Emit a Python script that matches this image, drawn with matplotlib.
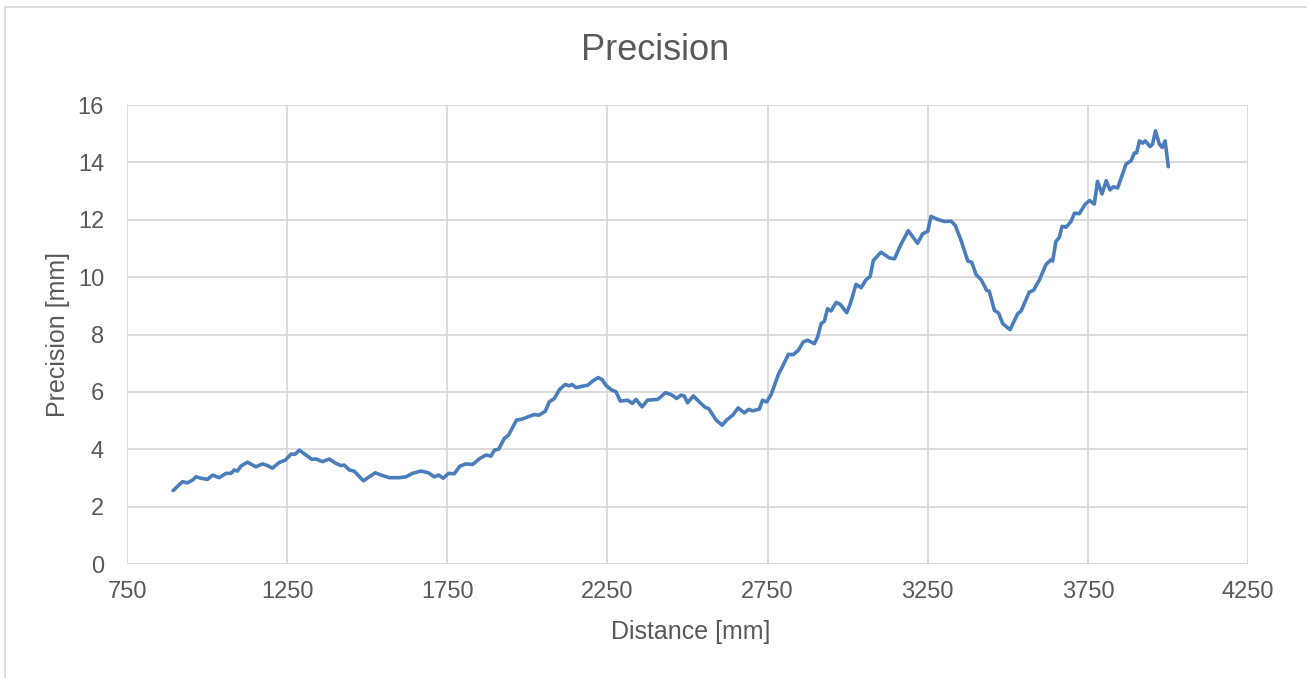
import matplotlib.pyplot as plt
from matplotlib.patches import Rectangle

# Distance [mm] and precision [mm]
distance = [894, 923, 939, 955, 965, 981, 1001, 1017, 1038, 1059, 1074, 1085, 1095,
            1106, 1126, 1152, 1173, 1189, 1204, 1225, 1244, 1262, 1275, 1288, 1309,
            1327, 1340, 1360, 1381, 1402, 1418, 1428, 1444, 1459, 1488, 1506, 1525,
            1543, 1569, 1600, 1621, 1641, 1668, 1691, 1709, 1723, 1737, 1754, 1772,
            1789, 1808, 1829, 1850, 1871, 1886, 1897, 1910, 1928, 1941, 1966, 1980,
            1997, 2021, 2037, 2056, 2068, 2084, 2100, 2118, 2131, 2139, 2152, 2172,
            2188, 2204, 2221, 2233, 2245, 2261, 2277, 2290, 2313, 2328, 2339, 2358,
            2375, 2407, 2431, 2448, 2466, 2480, 2490, 2500, 2518, 2537, 2555, 2566,
            2589, 2608, 2622, 2641, 2658, 2677, 2691, 2703, 2724, 2734, 2747, 2761,
            2784, 2797, 2815, 2830, 2846, 2861, 2875, 2896, 2906, 2917, 2927, 2937,
            2948, 2964, 2977, 2997, 3008, 3026, 3042, 3057, 3070, 3080, 3104, 3130,
            3146, 3167, 3189, 3218, 3234, 3250, 3260, 3281, 3302, 3323, 3336, 3354,
            3375, 3387, 3401, 3416, 3434, 3442, 3458, 3471, 3484, 3507, 3531, 3541,
            3567, 3580, 3598, 3619, 3635, 3640, 3650, 3661, 3669, 3682, 3697, 3708,
            3723, 3742, 3755, 3770, 3780, 3794, 3807, 3819, 3829, 3843, 3869, 3885,
            3895, 3902, 3911, 3921, 3929, 3944, 3952, 3961, 3973, 3982, 3991, 4001]
precision = [2.56, 2.87, 2.83, 2.93, 3.04, 2.99, 2.95, 3.10, 3.01, 3.16, 3.16, 3.28, 3.24,
             3.42, 3.55, 3.39, 3.49, 3.43, 3.34, 3.54, 3.62, 3.83, 3.83, 3.97, 3.80,
             3.65, 3.66, 3.57, 3.66, 3.51, 3.43, 3.45, 3.28, 3.24, 2.90, 3.04, 3.18,
             3.10, 3.01, 3.01, 3.04, 3.16, 3.24, 3.18, 3.04, 3.10, 2.99, 3.16, 3.15,
             3.41, 3.49, 3.47, 3.67, 3.80, 3.76, 3.97, 4.00, 4.38, 4.49, 5.02, 5.04,
             5.11, 5.21, 5.19, 5.33, 5.65, 5.77, 6.08, 6.26, 6.21, 6.26, 6.15, 6.20,
             6.23, 6.38, 6.50, 6.43, 6.23, 6.08, 6.00, 5.68, 5.71, 5.60, 5.74, 5.48,
             5.71, 5.74, 5.97, 5.91, 5.77, 5.89, 5.85, 5.62, 5.86, 5.65, 5.46, 5.42,
             5.02, 4.84, 5.02, 5.19, 5.44, 5.27, 5.39, 5.34, 5.40, 5.71, 5.65, 5.91,
             6.62, 6.90, 7.31, 7.30, 7.45, 7.74, 7.80, 7.68, 7.91, 8.38, 8.46, 8.90,
             8.82, 9.12, 9.05, 8.76, 9.07, 9.75, 9.63, 9.91, 10.02, 10.58, 10.87, 10.67,
             10.64, 11.16, 11.62, 11.18, 11.51, 11.60, 12.12, 12.01, 11.94, 11.95, 11.80, 11.28,
             10.56, 10.52, 10.09, 9.92, 9.54, 9.51, 8.84, 8.75, 8.38, 8.17, 8.73, 8.81,
             9.48, 9.54, 9.89, 10.44, 10.61, 10.56, 11.24, 11.39, 11.77, 11.74, 11.94, 12.23,
             12.21, 12.55, 12.67, 12.55, 13.34, 12.90, 13.36, 13.04, 13.15, 13.11, 13.94, 14.06,
             14.33, 14.33, 14.75, 14.67, 14.75, 14.55, 14.64, 15.10, 14.64, 14.52, 14.75, 13.85]

x_ticks = [750, 1250, 1750, 2250, 2750, 3250, 3750, 4250]
y_ticks = [0, 2, 4, 6, 8, 10, 12, 14, 16]

plt.rcParams['font.family'] = ['Liberation Sans', 'DejaVu Sans']
text_color = '#595959'
grid_color = '#d9d9d9'

fig = plt.figure(figsize=(13.07, 6.78), dpi=100)
ax = fig.add_axes([0.0972, 0.1681, 0.8577, 0.6770])

ax.plot(distance, precision, color='#4a7ebb', linewidth=2.6,
        solid_joinstyle='round', solid_capstyle='round')

ax.set_xlim(750, 4250)
ax.set_ylim(0, 16)
ax.set_xticks(x_ticks)
ax.set_yticks(y_ticks)
ax.tick_params(length=0, labelsize=17, labelcolor=text_color)
ax.tick_params(axis='x', pad=12)
ax.tick_params(axis='y', pad=16.5)
ax.grid(True, color=grid_color, linewidth=1.3)
ax.set_axisbelow(True)
for s in ax.spines.values():
    s.set_visible(False)

ax.set_xlabel("Distance [mm]", fontsize=18, color=text_color, va='baseline')
ax.xaxis.set_label_coords(0.5024, -0.163)
ax.set_ylabel("Precision [mm]", fontsize=18, color=text_color)
ax.yaxis.set_label_coords(-0.051, 0.5)

fig.text(0.5014, 1 - 60 / 678, "Precision", fontsize=26, color=text_color,
         ha='center', va='baseline')

# light chart-area border
fig.patches.append(Rectangle((0.0035, -0.01), 1.0, 1.0, transform=fig.transFigure,
                             fill=False, edgecolor=grid_color, linewidth=1.3))

fig.savefig("out.png", dpi=100)
